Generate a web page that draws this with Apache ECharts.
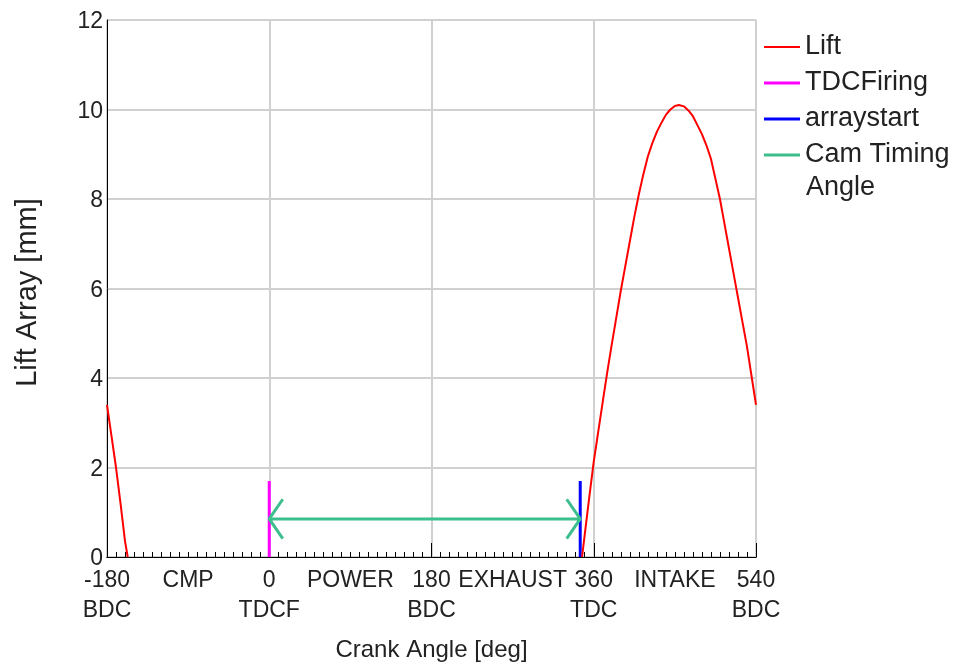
<!DOCTYPE html>
<html>
<head>
<meta charset="utf-8">
<script src="https://cdn.jsdelivr.net/npm/echarts@6/dist/echarts.min.js"></script>
<style>
  html, body { margin: 0; padding: 0; background: #ffffff; }
  #chart { width: 958px; height: 663px; }
</style>
</head>
<body>
<div id="chart"></div>
<script>
const FONT = '"Liberation Sans", Arial, sans-serif';
const TEXT_COLOR = '#222222';

// Valve lift over the working cycle: crank angle [deg] and lift [mm]
// (null = pen up along the closed, zero-lift part of the cycle)
const liftAngles = [-180, -175, -170, -165, -160, -157, null,
  347, 350, 355, 360, 365, 370, 375, 380, 385, 390, 395, 400, 405, 410, 415, 420, 425, 430,
  435, 440, 445, 450, 454.5, 460, 465, 470, 475, 480, 485, 490, 495, 500, 505, 510, 515, 520,
  525, 530, 535, 540];
const liftValues = [3.4, 2.7, 2.0, 1.2, 0.35, 0, null,
  0, 0.5, 1.33, 2.13, 2.8, 3.47, 4.13, 4.75, 5.35, 5.95, 6.5, 7.05, 7.6, 8.1, 8.55, 8.95, 9.25, 9.5,
  9.7, 9.88, 10.0, 10.08, 10.1, 10.07, 9.98, 9.85, 9.65, 9.45, 9.2, 8.9, 8.45, 8.0, 7.45, 6.9, 6.35, 5.8,
  5.25, 4.7, 4.05, 3.4];

// Firing TDC marker
const tdcFiringAngles = [0, 0];
const tdcFiringValues = [0, 1.7];

// Start of the lift array
const arrayStartAngles = [345, 345];
const arrayStartValues = [0, 1.7];

// Cam timing angle: double-headed arrow from firing TDC to array start (null = pen up)
const camTimingAngles = [15, 0, 15, null, 0, 345, null, 330, 345, 330];
const camTimingValues = [1.29, 0.85, 0.41, null, 0.85, 0.85, null, 1.29, 0.85, 0.41];

// Crank angle tick labels
const xLabelAngles = [-180, -90, 0, 90, 180, 270, 360, 450, 540];
const xLabelTexts = ['-180\nBDC', 'CMP', '0\nTDCF', 'POWER', '180\nBDC', 'EXHAUST', '360\nTDC', 'INTAKE', '540\nBDC'];

function pairs(xs, ys) {
  return xs.map((x, i) => (x === null || ys[i] === null) ? ['-', '-'] : [x, ys[i]]);
}

const xMin = -180, xMax = 540;
const GRID_LINE = { color: '#d0d0d0', width: 2 };

const chart = echarts.init(document.getElementById('chart'), null, { renderer: 'canvas' });

chart.setOption({
  backgroundColor: '#ffffff',
  animation: false,
  textStyle: { fontFamily: FONT },
  grid: {
    left: 107, right: 202, top: 20, bottom: 106,
    containLabel: false, outerBoundsMode: 'none',
    show: true, borderColor: '#000000', borderWidth: 1, backgroundColor: '#ffffff'
  },
  legend: {
    orient: 'vertical',
    left: 759, top: 25,
    itemWidth: 36, itemHeight: 14, itemGap: 2,
    symbolKeepAspect: true,
    textStyle: { fontFamily: FONT, fontSize: 27, color: TEXT_COLOR, lineHeight: 34 },
    formatter: name => name === 'Cam Timing Angle' ? 'Cam Timing' : name,
    data: [
      { name: 'Lift', icon: 'path://M0 0H36V2H0Z' },
      { name: 'TDCFiring', icon: 'path://M0 0H36V3H0Z' },
      { name: 'arraystart', icon: 'path://M0 0H36V3H0Z' },
      { name: 'Cam Timing Angle', icon: 'path://M0 0H36V3H0Z' }
    ]
  },
  graphic: [{
    type: 'text',
    left: 806, top: 174,
    style: { text: 'Angle', font: '27px ' + FONT, fill: TEXT_COLOR }
  }],
  xAxis: [
    {
      // labels and 10 deg minor ticks
      type: 'value', position: 'bottom', min: xMin, max: xMax, interval: 10,
      name: 'Crank Angle [deg]', nameLocation: 'middle', nameGap: 81,
      nameTextStyle: { fontFamily: FONT, fontSize: 24, color: TEXT_COLOR },
      axisLine: { show: true, onZero: false, lineStyle: { color: '#000000', width: 1 } },
      axisTick: { show: true, inside: true, length: 5, lineStyle: { color: '#000000', width: 1 } },
      axisLabel: {
        show: true, margin: 9, fontFamily: FONT, fontSize: 23, color: TEXT_COLOR, lineHeight: 30,
        showMinLabel: true, showMaxLabel: true, hideOverlap: false,
        formatter: v => {
          const i = xLabelAngles.indexOf(Math.round(v));
          return i >= 0 ? xLabelTexts[i] : '';
        }
      },
      splitLine: { show: false }
    },
    {
      // 180 deg major ticks and vertical grid lines
      type: 'value', position: 'bottom', min: xMin, max: xMax, interval: 180,
      axisLine: { show: false, onZero: false },
      axisTick: { show: true, inside: true, length: 14, lineStyle: { color: '#000000', width: 1 } },
      axisLabel: { show: false },
      splitLine: { show: true, lineStyle: GRID_LINE }
    },
    {
      // bottom frame line drawn above the traces
      type: 'value', position: 'bottom', min: xMin, max: xMax, z: 10,
      axisLine: { show: true, onZero: false, lineStyle: { color: '#000000', width: 1 } },
      axisTick: { show: false }, axisLabel: { show: false }, splitLine: { show: false }
    }
  ],
  yAxis: [{
    type: 'value', min: 0, max: 12, interval: 2,
    name: 'Lift Array [mm]', nameLocation: 'middle', nameGap: 65,
    nameTextStyle: { fontFamily: FONT, fontSize: 29, color: TEXT_COLOR, padding: [0, 8, 0, 0] },
    axisLine: { show: true, onZero: false, lineStyle: { color: '#000000', width: 1 } },
    axisTick: { show: false },
    axisLabel: { margin: 4, verticalAlign: 'top', lineHeight: 4, fontFamily: FONT, fontSize: 23, color: TEXT_COLOR },
    splitLine: { show: true, lineStyle: GRID_LINE }
  }],
  series: [
    {
      name: 'Lift', type: 'line', symbol: 'none', xAxisIndex: 0, yAxisIndex: 0,
      connectNulls: false,
      lineStyle: { color: '#ff0000', width: 2 }, itemStyle: { color: '#ff0000' },
      data: pairs(liftAngles, liftValues), z: 3
    },
    {
      name: 'TDCFiring', type: 'line', symbol: 'none', xAxisIndex: 0, yAxisIndex: 0,
      lineStyle: { color: '#ff00ff', width: 3 }, itemStyle: { color: '#ff00ff' },
      data: pairs(tdcFiringAngles, tdcFiringValues), z: 4
    },
    {
      name: 'arraystart', type: 'line', symbol: 'none', xAxisIndex: 0, yAxisIndex: 0,
      lineStyle: { color: '#0000ff', width: 3 }, itemStyle: { color: '#0000ff' },
      data: pairs(arrayStartAngles, arrayStartValues), z: 2
    },
    {
      name: 'Cam Timing Angle', type: 'line', symbol: 'none', xAxisIndex: 0, yAxisIndex: 0,
      connectNulls: false,
      lineStyle: { color: '#3cbf8c', width: 3 }, itemStyle: { color: '#3cbf8c' },
      data: pairs(camTimingAngles, camTimingValues), z: 4
    }
  ]
});
</script>
</body>
</html>
